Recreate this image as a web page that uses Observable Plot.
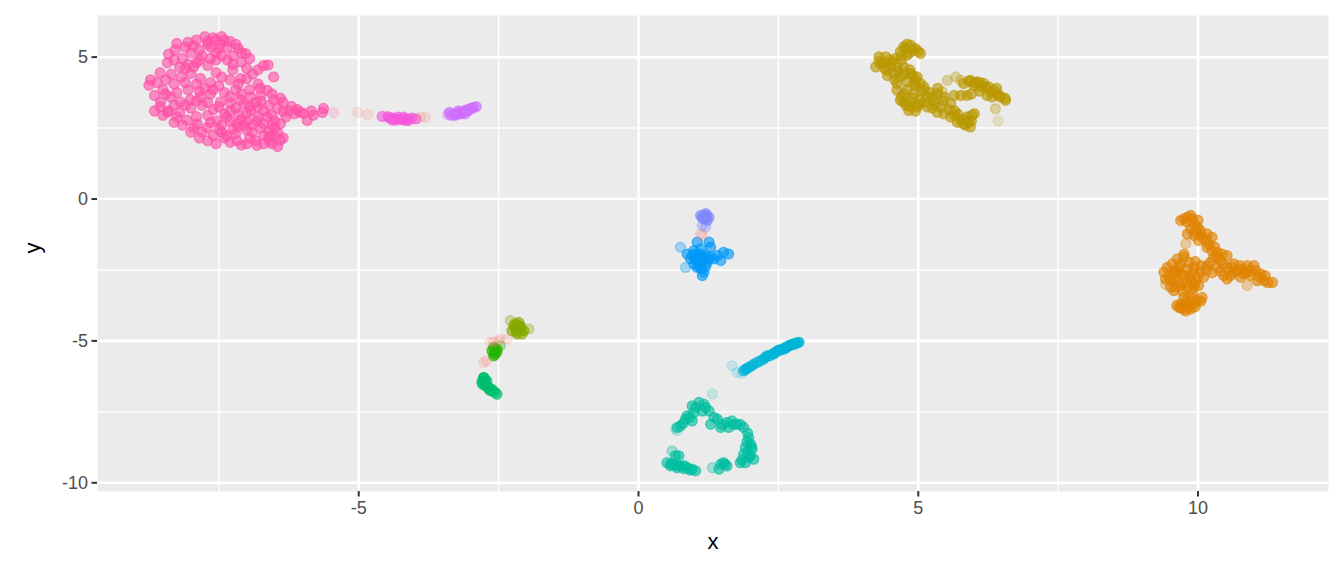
<!DOCTYPE html>
<html>
<head>
<meta charset="utf-8">
<script src="https://cdn.jsdelivr.net/npm/d3@7"></script>
<script src="https://cdn.jsdelivr.net/npm/@observablehq/plot@0.6"></script>
<style>
  html, body { margin: 0; padding: 0; background: #ffffff; }
  #chart svg { font-family: "Liberation Sans", Arial, Helvetica, sans-serif; }
</style>
</head>
<body>
<div id="chart"></div>
<script>
// ---- data (cluster ids follow the 13-level hue palette order) ----
const clusterIds = ["1","2","3","4","5","6","7","8","9","10","11","12","13"];

// cluster 13 (pink)
const pink = [
  [-8.25,5.48],[-8.05,5.52],[-7.95,5.40],[-7.75,5.72],[-7.60,5.68],[-7.45,5.72],[-7.30,5.55],[-7.65,5.36],
  [-7.47,5.45],[-7.15,5.30],[-7.02,5.12],[-6.95,4.95],[-7.10,4.82],[-7.35,4.90],[-7.55,4.90],[-7.80,5.05],
  [-8.00,5.15],[-7.90,4.80],[-8.15,4.95],[-8.40,5.10],[-8.42,4.80],[-8.20,4.65],[-7.70,5.55],[-7.85,5.25],
  [-7.55,5.15],[-7.25,5.05],[-7.40,5.60],[-7.20,5.45],[-7.50,5.30],[-6.70,4.70],[-6.62,4.72],[-6.52,4.30],
  [-8.10,5.35],[-7.90,5.60],[-7.70,5.45],[-7.55,5.60],[-7.35,5.35],[-7.10,5.15],[-7.25,4.75],[-7.45,5.05],
  [-7.65,4.95],[-7.85,4.90],[-8.05,4.75],[-8.30,4.90],[-8.28,5.25],[-7.00,4.60],[-6.80,4.55],[-6.90,4.40],
  [-8.72,4.20],[-8.75,4.01],[-8.55,4.45],[-8.35,4.40],[-8.17,4.30],[-8.00,4.42],[-7.83,4.25],[-7.65,4.10],
  [-7.50,3.98],[-7.30,4.20],[-7.11,4.24],[-7.00,4.24],[-7.20,3.85],[-7.40,3.75],[-8.10,4.60],[-7.95,4.65],
  [-7.70,4.70],[-8.45,4.20],[-7.55,4.45],[-7.25,4.55],
  [-8.60,4.10],[-8.50,3.85],[-8.30,4.05],[-8.10,4.10],[-7.90,4.05],[-7.75,3.90],[-7.60,3.85],[-7.45,4.30],
  [-7.15,4.05],[-6.95,3.85],[-6.80,4.05],[-8.65,3.65],[-8.45,3.70],[-8.25,3.75],[-8.05,3.85],[-7.85,3.80],
  [-7.30,3.60],[-7.10,3.70],[-6.75,3.65],[-6.55,3.70],
  [-8.54,3.42],[-8.36,3.59],[-8.19,3.42],[-8.01,3.50],[-7.83,3.59],[-7.65,3.70],[-7.47,3.42],[-7.29,3.38],
  [-7.11,3.50],[-6.93,3.59],[-6.76,3.90],[-6.64,3.83],[-6.52,3.50],[-6.40,3.55],[-6.80,3.24],[-6.93,3.10],
  [-8.40,3.10],[-8.20,3.05],[-8.00,3.20],[-7.80,3.30],[-7.60,3.15],[-7.40,3.00],[-7.20,3.20],[-7.05,3.35],
  [-8.30,3.30],[-8.10,3.30],[-7.90,3.45],[-7.70,3.40],[-7.50,3.25],[-7.30,3.10],[-7.15,3.00],[-6.95,3.25],
  [-6.75,3.45],[-6.35,3.40],[-8.55,3.25],[-8.65,3.10],
  [-8.42,3.06],[-8.25,2.89],[-8.07,2.78],[-7.89,2.65],[-7.71,2.52],[-7.54,2.75],[-7.36,2.89],[-7.18,2.65],
  [-7.00,2.42],[-6.82,2.75],[-6.64,2.90],[-6.70,2.24],[-6.52,2.24],[-6.40,2.07],[-7.60,2.24],[-7.36,2.24],
  [-7.18,2.06],[-7.00,1.95],[-6.82,1.89],[-6.60,2.05],[-6.45,1.85],[-7.55,1.95],[-7.80,2.35],[-7.95,2.50],
  [-7.10,2.80],[-6.90,2.60],[-6.75,2.50],[-6.55,2.60],[-7.25,2.45],[-7.45,2.60],[-6.95,2.15],[-7.30,2.00],
  [-6.60,2.40],[-6.50,2.75],[-6.85,3.40],[-7.00,3.00],[-6.70,3.10],[-6.60,3.30],[-6.45,3.20],[-6.55,2.95],
  [-8.30,2.70],[-8.15,2.60],[-8.00,2.35],[-7.85,2.15],[-7.70,2.05],[-7.65,2.70],[-7.50,2.45],[-7.40,2.15],
  [-7.20,2.30],[-7.05,2.60],[-6.90,2.35],[-6.85,2.05],[-6.70,2.65],[-6.60,2.20],[-6.50,2.50],[-6.45,2.35],
  [-6.35,2.15],[-7.15,2.55],[-7.00,2.75],[-6.80,2.90],[-7.30,2.75],[-6.40,2.65],[-6.55,1.95],[-6.70,1.95],
  [-7.10,1.90],[-7.45,2.35],[-7.90,2.90],[-7.70,2.95],[-8.50,2.95],
  [-6.35,3.08],[-6.20,3.26],[-6.30,2.89],[-6.05,3.06],[-5.99,3.02],[-5.92,2.77],[-5.81,2.95],[-5.65,3.05],
  [-5.63,3.19],[-6.15,3.00],[-6.25,3.10],[-6.10,3.15],[-5.85,3.10]
];
const pinkFaint = [[-5.45,3.05]];

// cluster 12 (magenta)
const magenta = [
  [-4.58,2.91],[-4.48,2.90],[-4.40,2.85],[-4.33,2.78],[-4.25,2.82],[-4.18,2.78],[-4.10,2.80],[-4.05,2.85],
  [-4.30,2.88],[-4.20,2.88],[-4.40,2.78],[-4.15,2.83],[-3.98,2.82],[-4.35,2.82],[-4.22,2.80],[-4.12,2.77],
  [-4.45,2.86]
];

// cluster 11 (purple)
const purple = [
  [-3.35,2.95],[-3.30,3.00],[-3.25,2.98],[-3.20,3.05],[-3.15,3.05],[-3.10,3.12],[-3.05,3.15],[-3.00,3.18],
  [-2.95,3.22],[-2.90,3.25],[-3.22,3.10],[-3.10,3.00],[-3.38,3.05],[-3.28,2.95],[-3.18,3.00],[-3.05,3.10],
  [-2.98,3.20],[-3.12,3.08]
];
const purpleFaint = [[-3.41,2.98]];

// cluster 3 (olive)
const olive = [
  [4.74,5.36],[4.86,5.42],[4.95,5.30],[5.04,5.13],[4.80,5.07],[4.68,5.19],[4.90,5.25],[4.78,5.30],[5.00,5.20],
  [4.85,5.15],[4.70,5.05],[4.80,5.45],
  [4.24,4.65],[4.30,5.01],[4.42,5.01],[4.54,4.83],[4.62,4.65],[4.44,4.54],[4.33,4.77],[4.56,4.42],[4.74,4.65],
  [4.68,4.30],[4.86,4.42],[4.98,4.30],[4.80,4.13],[4.92,4.07],[5.04,4.07],[4.62,4.07],[4.50,4.90],[4.40,4.60],
  [4.70,4.90],[4.85,4.55],[4.95,4.20],[4.30,4.85],[4.50,4.70],[4.60,4.95],[4.65,4.50],[4.75,4.40],[4.90,4.35],
  [4.95,4.00],[4.45,4.35],[4.40,4.80],[4.58,4.20],
  [4.62,3.83],[4.74,3.71],[4.92,3.71],[5.10,3.83],[5.16,3.59],[5.34,3.71],[5.04,3.48],[4.86,3.42],[4.74,3.42],
  [4.83,3.12],[4.98,3.24],[5.16,3.24],[4.68,3.48],[5.10,3.95],[5.20,3.75],[4.90,3.55],[5.00,3.35],[5.25,3.60],
  [5.05,3.80],[4.80,3.85],[4.85,3.25],[4.95,3.10],[5.10,3.40],[4.70,3.60],[4.78,3.30],[5.35,3.90],
  [5.28,3.48],[5.40,3.24],[5.34,3.06],[5.46,3.00],[5.58,3.36],[5.64,3.65],[5.76,3.65],[5.87,3.65],[5.58,2.89],
  [5.70,3.00],[5.76,2.77],[5.87,2.89],[5.93,2.54],[5.81,2.65],[5.96,2.95],[5.46,3.59],[5.80,2.80],[5.90,2.70],
  [5.65,3.10],[5.30,3.35],[5.45,3.45],[5.55,3.15],[5.65,2.95],[5.70,2.70],[5.85,2.60],[5.95,2.75],[6.00,3.00],
  [5.25,3.20],
  [5.81,4.07],[5.93,4.18],[6.05,4.13],[6.17,4.07],[6.26,3.95],[6.35,3.83],[6.41,3.71],[6.47,3.59],[6.56,3.48],
  [6.32,3.59],[6.23,3.65],[6.11,3.95],[5.99,4.01],[6.00,4.10],[6.20,3.95],[6.45,3.65],[5.95,3.70],[6.10,3.80],
  [6.30,3.75],[6.55,3.55],[6.40,3.90],[5.90,4.15],[6.10,4.10]
];
const oliveEdge = [[5.52,4.18],[5.67,4.30],[5.76,4.18],[5.43,3.77],[6.38,3.18]];
const oliveFaint = [[6.43,2.75]];

// cluster 2 (orange)
const orange = [
  [9.69,-0.76],[9.81,-0.64],[9.87,-0.58],[9.93,-0.88],[9.99,-0.99],[10.04,-1.11],[9.87,-1.05],[9.81,-1.23],
  [9.93,-1.29],[10.07,-1.35],[10.16,-1.23],[10.01,-1.46],[10.25,-1.35],[9.75,-0.70],[10.00,-0.75],
  [9.80,-0.80],[9.90,-0.70],[9.95,-1.15],[10.05,-1.25],[10.15,-1.45],[10.20,-1.60],[10.30,-1.70],
  [10.16,-1.70],[10.25,-1.82],[10.34,-1.88],[10.28,-2.05],[10.43,-1.94],[10.52,-2.00],[10.40,-2.17],[10.22,-2.23],
  [10.16,-2.35],[10.35,-2.05],[10.45,-2.30],
  [10.34,-2.41],[10.52,-2.41],[10.64,-2.29],[10.76,-2.47],[10.88,-2.35],[11.00,-2.35],[11.03,-2.52],[11.12,-2.64],
  [11.18,-2.88],[11.33,-2.94],[10.94,-2.70],[10.82,-2.64],[10.64,-2.58],[10.46,-2.70],[10.52,-2.82],[10.76,-2.76],
  [11.06,-2.88],[10.70,-2.55],[10.90,-2.50],[10.60,-2.40],[10.75,-2.35],[10.85,-2.60],[10.95,-2.55],[11.10,-2.75],
  [11.20,-2.70],[11.25,-2.95],[10.58,-2.70],[10.40,-2.55],[10.25,-2.60],
  [9.45,-2.41],[9.39,-2.58],[9.42,-2.82],[9.54,-2.29],[9.63,-2.11],[9.69,-2.29],[9.75,-2.05],[9.84,-2.23],
  [9.81,-2.47],[9.93,-2.41],[10.04,-2.58],[9.99,-2.76],[9.87,-2.88],[9.75,-2.70],[9.63,-2.58],[9.57,-2.88],
  [9.51,-3.11],[9.57,-3.23],[9.69,-3.05],[9.81,-3.11],[9.93,-3.11],[10.01,-3.05],[10.10,-2.76],[9.60,-2.52],
  [9.48,-2.70],[9.75,-1.95],[9.90,-2.60],[10.15,-2.50],[10.05,-2.35],[9.95,-2.20],[9.65,-2.40],[9.55,-2.60],
  [9.50,-2.85],[9.65,-2.90],[9.80,-2.95],[9.95,-2.95],[9.70,-2.65],[9.85,-2.75],[9.60,-3.10],[9.72,-3.25],
  [9.90,-3.30],
  [9.69,-3.70],[9.81,-3.82],[9.93,-3.70],[9.75,-3.88],[9.87,-3.88],[9.66,-3.82],[9.99,-3.58],[10.07,-3.47],
  [9.87,-3.47],[9.75,-3.47],[9.80,-3.60],[9.85,-3.65],[9.70,-3.85],[9.78,-3.95],[9.95,-3.80],[10.05,-3.60],
  [9.62,-3.75]
];
const orangeEdge = [[9.78,-1.58],[10.88,-3.05],[9.42,-3.00]];

// cluster 10 (lavender)
const lavender = [[1.11,-0.58],[1.20,-0.52],[1.26,-0.64],[1.17,-0.70],[1.23,-0.76],[1.14,-0.66],[1.18,-0.60],
  [1.15,-0.62],[1.22,-0.58],[1.19,-0.70]];
const lavenderEdge = [[1.14,-0.94],[1.20,-0.99]];

// cluster 9 (azure)
const azure = [
  [1.05,-1.52],[1.26,-1.52],[1.29,-1.70],[0.87,-1.94],[0.99,-1.82],[1.11,-1.76],[0.93,-2.11],[1.05,-2.05],
  [1.17,-2.05],[1.29,-2.05],[1.41,-1.99],[1.52,-1.88],[1.61,-1.94],[0.99,-2.29],[1.11,-2.29],[1.23,-2.23],
  [1.17,-2.58],[1.14,-2.70],[1.35,-2.11],[1.47,-2.17],[1.05,-2.41],[0.96,-1.99],[1.11,-1.94],[1.03,-2.15],
  [1.15,-2.15],[1.08,-2.25],[1.00,-1.95],[1.08,-1.98],[1.20,-2.00],[1.13,-2.10],[1.25,-2.12],[1.00,-2.05],
  [1.07,-2.35],[1.20,-2.38],[1.12,-2.45]
];
const azureEdge = [[0.75,-1.70],[0.84,-2.41]];

// cluster 8 (cyan)
const cyan = [
  [1.88,-6.05],[1.93,-5.98],[1.97,-5.94],[2.06,-5.82],[2.12,-5.76],[2.24,-5.64],[2.30,-5.52],[2.35,-5.52],
  [2.39,-5.47],[2.44,-5.42],[2.48,-5.35],[2.54,-5.32],[2.60,-5.29],[2.64,-5.24],[2.69,-5.17],[2.73,-5.14],
  [2.78,-5.11],[2.82,-5.08],[2.87,-5.05],[2.58,-5.28],[2.66,-5.20],[2.02,-5.88],[2.18,-5.70],[2.27,-5.58],
  [2.42,-5.45],[2.51,-5.33],[2.62,-5.25],[2.71,-5.15],[2.76,-5.12],[2.80,-5.10],[2.85,-5.06],[1.92,-6.00]
];
const cyanFaint = [[1.67,-5.88],[1.76,-6.11],[1.85,-6.14]];

// cluster 7 (teal)
const teal = [
  [0.96,-7.29],[1.08,-7.17],[1.17,-7.23],[1.14,-7.47],[1.26,-7.47],[0.99,-7.53],[0.87,-7.64],[0.84,-7.76],
  [0.96,-7.82],[0.75,-8.00],[0.69,-8.05],[1.02,-7.35],[1.20,-7.35],[0.92,-7.70],[0.80,-7.90],
  [1.29,-7.94],[1.41,-7.76],[1.47,-8.05],[1.58,-7.88],[1.67,-7.82],[1.76,-7.94],[1.88,-8.05],[1.61,-8.05],
  [1.35,-7.70],[1.50,-7.95],[1.70,-7.95],[1.82,-7.95],
  [1.97,-8.41],[2.00,-8.64],[1.91,-8.76],[2.03,-8.82],[1.88,-8.99],[1.97,-9.11],[1.82,-9.29],[1.91,-9.29],
  [2.06,-9.17],[1.94,-8.55],[1.95,-8.25],[2.02,-8.72],[1.95,-8.90],[1.85,-9.20],[2.00,-9.05],
  [0.51,-9.29],[0.63,-9.35],[0.75,-9.41],[0.87,-9.47],[0.96,-9.52],[1.02,-9.58],[0.69,-9.47],[0.57,-9.40],
  [0.66,-9.05],[0.72,-9.05],[0.81,-9.50],[0.58,-9.33],[0.70,-9.40],[0.92,-9.55],[0.82,-9.40],
  [1.47,-9.35],[1.52,-9.29],[1.58,-9.41],[1.44,-9.52],[1.55,-9.35]
];
const tealEdge = [[0.60,-8.88],[1.32,-9.47]];
const tealFaint = [[1.32,-6.87],[0.66,-8.11],[0.69,-8.17]];

// cluster 4 (yellow-green)
const yellowgreen = [
  [-2.14,-4.35],[-2.11,-4.47],[-2.20,-4.58],[-2.26,-4.64],[-2.05,-4.64],[-2.17,-4.76],[-2.08,-4.76],[-2.23,-4.47],
  [-2.12,-4.55],[-2.17,-4.45],[-2.15,-4.50],[-2.20,-4.40],[-2.10,-4.60],[-2.18,-4.68]
];
const yellowgreenEdge = [[-2.29,-4.29],[-1.96,-4.58]];

// cluster 5 (green)
const green = [[-2.59,-5.23],[-2.53,-5.29],[-2.56,-5.47],[-2.59,-5.53],[-2.53,-5.38],[-2.62,-5.35],
  [-2.56,-5.30],[-2.58,-5.42]];
const greenEdge = [[-2.47,-5.17]];

// cluster 6 (sea green)
const seagreen = [
  [-2.77,-6.29],[-2.79,-6.52],[-2.74,-6.58],[-2.68,-6.64],[-2.62,-6.70],[-2.56,-6.82],[-2.53,-6.88],[-2.71,-6.41],
  [-2.77,-6.41],[-2.75,-6.35],[-2.65,-6.75],[-2.80,-6.45],[-2.70,-6.62],[-2.76,-6.30],[-2.73,-6.50],[-2.60,-6.78],
  [-2.67,-6.70],[-2.78,-6.38]
];

// cluster 1 (salmon, transitional cells)
const salmonFaint = [
  [-5.02,3.05],[-4.84,2.98],[-3.90,2.88],[-3.81,2.88],[1.11,-1.23],[1.14,-1.29],
  [-2.35,-4.94],[-2.47,-4.94],[-2.59,-5.05],[-2.65,-5.05],[-2.77,-5.76],[-2.71,-5.70],[-2.50,-5.00]
];

// axis ticks
const xMajor = [-5, 0, 5, 10];
const xMinor = [-7.5, -2.5, 2.5, 7.5];
const yMajor = [-10, -5, 0, 5];
const yMinor = [-7.5, -2.5, 2.5];

// ---- build table ----
const rows = [];
function add(id, pts, level) { for (const [x, y] of pts) rows.push({cluster: id, x, y, level}); }
add("13", pink, "core"); add("13", pinkFaint, "trace");
add("12", magenta, "core");
add("11", purple, "core"); add("11", purpleFaint, "edge");
add("3", olive, "core"); add("3", oliveEdge, "edge"); add("3", oliveFaint, "trace");
add("2", orange, "core"); add("2", orangeEdge, "edge");
add("10", lavender, "core"); add("10", lavenderEdge, "edge");
add("9", azure, "core"); add("9", azureEdge, "edge");
add("8", cyan, "core"); add("8", cyanFaint, "trace");
add("7", teal, "core"); add("7", tealEdge, "edge"); add("7", tealFaint, "trace");
add("4", yellowgreen, "core"); add("4", yellowgreenEdge, "edge");
add("5", green, "core"); add("5", greenEdge, "edge");
add("6", seagreen, "core");
add("1", salmonFaint, "trace");

const palette = ["#F8766D","#E08300","#B99800","#86AA00","#24B700","#00BE70","#00BEA0",
                 "#00B5D8","#0099F8","#7F87FF","#D06EFE","#F458DB","#FF4FA6"];
const alphaOf = {core: 0.62, edge: 0.32, trace: 0.16};

const fmt = d => String(d);

const chart = Plot.plot({
  width: 1344,
  height: 576,
  marginLeft: 97,
  marginRight: 16,
  marginTop: 15,
  marginBottom: 85,
  x: {domain: [-9.669, 12.332], axis: null},
  y: {domain: [-10.307, 6.466], axis: null},
  color: {type: "ordinal", domain: clusterIds, range: palette},
  opacity: {type: "identity"},
  marks: [
    Plot.frame({fill: "#EBEBEB", stroke: null}),
    Plot.ruleX(xMinor, {stroke: "#FFFFFF", strokeWidth: 1.4}),
    Plot.ruleY(yMinor, {stroke: "#FFFFFF", strokeWidth: 1.4}),
    Plot.ruleX(xMajor, {stroke: "#FFFFFF", strokeWidth: 2.6}),
    Plot.ruleY(yMajor, {stroke: "#FFFFFF", strokeWidth: 2.6}),
    Plot.dot(rows, {
      x: "x", y: "y", fill: "cluster", stroke: "cluster", r: 5.0, strokeWidth: 1.3,
      fillOpacity: d => alphaOf[d.level], strokeOpacity: d => alphaOf[d.level]
    }),
    Plot.axisX(xMajor, {
      anchor: "bottom", tickSize: 5.5, tickPadding: 4, fontSize: 18,
      stroke: "#333333", strokeWidth: 2, fill: "#4D4D4D", tickFormat: fmt, label: null
    }),
    Plot.axisY(yMajor, {
      anchor: "left", tickSize: 5.5, tickPadding: 4, fontSize: 18,
      stroke: "#333333", strokeWidth: 2, fill: "#4D4D4D", tickFormat: fmt, label: null
    }),
    Plot.text(["x"], {frameAnchor: "bottom", dy: 57, fontSize: 22, fill: "#000000"}),
    Plot.text(["y"], {frameAnchor: "left", dx: -65, rotate: -90, fontSize: 22, fill: "#000000"})
  ]
});
document.getElementById("chart").appendChild(chart);
</script>
</body>
</html>
